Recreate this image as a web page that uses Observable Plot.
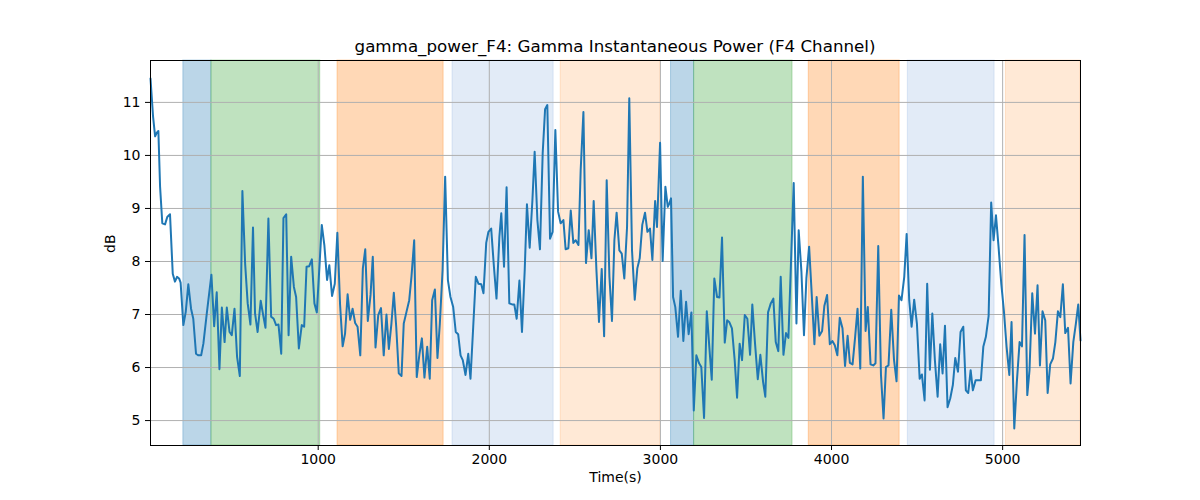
<!DOCTYPE html>
<html>
<head>
<meta charset="utf-8">
<script src="https://cdn.jsdelivr.net/npm/d3@7"></script>
<script src="https://cdn.jsdelivr.net/npm/@observablehq/plot@0.6"></script>
<style>
  body { margin: 0; background: #fff; font-family: "DejaVu Sans", sans-serif; }
  #title { box-sizing: border-box; height: 56px; width: 930px; margin-left: 150px;
           display: flex; align-items: flex-end; justify-content: center;
           font-size: 16.7px; color: #000; line-height: 1.15; }
  #chart svg { display: block; }
</style>
</head>
<body>
<div id="title">gamma_power_F4: Gamma Instantaneous Power (F4 Channel)</div>
<div id="chart"></div>
<script>
const titleText = "gamma_power_F4: Gamma Instantaneous Power (F4 Channel)";
const xLabel = "Time(s)";
const yLabel = "dB";
const xTicks = [1000, 2000, 3000, 4000, 5000];
const yTicks = [5, 6, 7, 8, 9, 10, 11];

const times = [20,35,47,57,66,76,89,105,118,134,150,163,175,187,196,212,226,241,257,270,286,300,316,329,349,376,392,407,423,437,453,466,482,495,511,526,542,557,573,588,604,619,631,646,664,680,692,709,725,740,754,768,784,797,813,827,842,858,871,887,904,918,932,947,963,978,992,1021,1036,1052,1065,1081,1097,1112,1128,1143,1157,1172,1187,1201,1216,1230,1246,1261,1275,1290,1306,1319,1335,1351,1367,1383,1399,1413,1428,1442,1456,1471,1487,1500,1516,1532,1545,1561,1576,1592,1606,1621,1637,1652,1666,1682,1697,1711,1727,1742,1758,1773,1789,1804,1818,1832,1845,1861,1877,1890,1906,1921,1937,1953,1966,1982,1995,2011,2027,2042,2059,2070,2086,2101,2117,2133,2146,2160,2176,2191,2207,2220,2236,2252,2265,2281,2296,2312,2326,2339,2355,2370,2386,2402,2417,2433,2446,2462,2476,2491,2505,2521,2534,2550,2565,2581,2597,2610,2626,2641,2657,2671,2686,2702,2717,2731,2744,2760,2774,2789,2805,2818,2834,2850,2865,2879,2894,2910,2924,2939,2953,2969,2980,2998,3013,3029,3043,3052,3062,3074,3087,3103,3119,3134,3150,3165,3181,3195,3210,3226,3239,3255,3271,3286,3300,3315,3331,3345,3360,3376,3390,3402,3418,3434,3448,3463,3477,3493,3508,3524,3537,3553,3569,3584,3600,3613,3629,3645,3660,3674,3689,3703,3719,3734,3748,3779,3795,3808,3824,3839,3853,3869,3884,3900,3913,3929,3945,3958,3974,3990,4005,4019,4034,4048,4064,4079,4094,4107,4123,4138,4152,4168,4183,4199,4212,4228,4244,4257,4273,4289,4304,4318,4333,4349,4365,4380,4394,4409,4425,4439,4454,4468,4483,4499,4515,4528,4544,4559,4575,4589,4604,4620,4635,4649,4663,4678,4694,4709,4723,4739,4754,4770,4785,4799,4813,4826,4842,4857,4873,4887,4902,4918,4933,4947,4961,4976,4992,5007,5023,5039,5052,5068,5083,5099,5113,5128,5144,5157,5173,5189,5204,5218,5233,5249,5263,5278,5294,5308,5323,5337,5352,5366,5382,5397,5413,5428,5442,5455];

const power = [11.45,10.73,10.36,10.43,10.46,9.41,8.72,8.70,8.84,8.89,7.77,7.62,7.71,7.68,7.60,6.80,7.05,7.57,7.11,6.92,6.26,6.23,6.23,6.45,7.02,7.75,6.78,7.42,5.97,7.13,6.48,7.13,6.67,6.61,7.11,6.20,5.84,9.33,7.96,7.21,6.81,8.64,7.02,6.67,7.26,6.96,6.75,8.81,6.96,6.92,6.80,6.81,6.26,8.82,8.89,6.61,8.09,7.52,7.33,6.36,6.80,6.77,7.90,7.91,8.04,7.21,7.04,8.69,8.31,7.65,7.93,7.35,7.58,8.54,7.18,6.40,6.64,7.38,6.90,7.11,6.84,6.77,6.23,7.87,8.23,6.88,7.37,8.09,6.38,6.99,7.12,6.23,7.00,6.35,6.83,7.41,6.77,5.89,5.84,6.83,7.05,7.27,7.71,8.40,5.82,6.26,6.55,5.81,6.39,5.79,7.27,7.47,6.18,6.83,7.84,9.60,7.65,7.33,7.14,6.67,6.63,6.23,6.14,5.86,6.26,5.79,6.77,7.71,7.58,7.57,7.40,8.35,8.56,8.62,7.90,7.30,8.47,8.91,7.90,9.40,7.21,7.19,7.19,6.92,7.64,6.67,7.84,9.08,8.26,9.16,10.07,8.78,8.23,10.04,10.87,10.95,8.43,8.56,10.48,8.94,8.72,8.78,8.23,8.25,8.96,8.35,8.40,8.31,9.72,10.82,7.97,8.59,8.06,9.14,7.84,6.86,7.86,6.59,9.53,7.71,6.88,8.40,8.92,8.21,8.15,7.68,8.65,11.08,8.21,7.28,7.87,8.06,8.69,8.92,8.56,8.62,8.03,9.14,8.65,10.24,8.01,9.41,9.03,9.09,9.19,7.33,7.14,6.58,7.45,6.50,7.24,6.63,7.04,5.19,6.23,6.08,6.01,5.05,7.06,6.38,5.77,7.68,7.33,7.32,8.45,6.47,6.89,6.86,6.74,6.14,5.43,6.45,6.14,6.99,6.92,6.24,7.19,6.45,5.78,6.24,5.73,5.45,7.04,7.21,7.30,6.48,6.31,7.71,6.24,6.65,6.56,9.48,6.83,8.59,7.81,6.61,7.68,8.28,7.40,6.44,7.33,6.60,6.69,7.16,7.37,6.44,6.50,6.42,6.23,6.94,6.74,6.03,6.60,6.09,6.06,6.58,7.11,5.98,9.60,6.69,7.14,6.06,6.04,6.08,8.29,5.86,5.04,6.01,6.04,7.09,6.15,5.74,7.36,7.27,7.71,8.52,7.27,6.77,7.28,6.83,5.79,5.87,5.38,7.58,5.96,7.02,6.14,5.45,6.44,5.89,6.79,5.25,5.42,5.67,6.18,5.92,6.67,6.77,5.57,5.52,5.95,5.57,5.76,5.76,5.76,6.39,6.58,6.97,9.11,8.40,8.87,8.28,7.58,7.08,6.39,5.86,6.86,4.85,5.73,6.48,6.40,8.50,5.48,5.95,7.40,6.64,7.55,6.04,7.06,6.89,5.52,6.06,6.17,6.48,7.06,6.95,7.57,6.65,6.75,5.70,6.48,6.83,7.19,6.51];

const spanStart = [212, 376, 1113, 1785, 2417, 3062, 3197, 3867, 4446, 5019];
const spanEnd   = [376, 1012, 1733, 2376, 2998, 3197, 3772, 4398, 4953, 5455];
const spanKind  = ["A", "B", "C", "D", "E", "A", "B", "C", "D", "E"];
const kinds = ["A", "B", "C", "D", "E"];
const kindColors = ["rgba(31,119,180,0.3)", "rgba(44,160,44,0.3)", "rgba(255,127,14,0.3)",
                    "rgba(111,155,214,0.2)", "rgba(255,127,14,0.17)"];

const data = times.map((t, i) => ({t, v: power[i]}));
const spans = spanStart.map((s, i) => ({s, e: spanEnd[i], k: spanKind[i]}));

const chart = Plot.plot({
  width: 1200,
  height: 444,
  marginLeft: 150,
  marginRight: 120,
  marginTop: 4,
  marginBottom: 55,
  style: {fontFamily: "DejaVu Sans, sans-serif", fontSize: "14px", color: "#000", background: "#fff"},
  x: {domain: [20, 5455], label: null},
  y: {domain: [4.53, 11.79], label: null},
  color: {domain: kinds, range: kindColors},
  marks: [
    Plot.rect(spans, {x1: "s", x2: "e", fill: "k", stroke: "k", strokeWidth: 1}),
    Plot.gridX(xTicks, {stroke: "#b0b0b0", strokeOpacity: 1, strokeWidth: 1}),
    Plot.gridY(yTicks, {stroke: "#b0b0b0", strokeOpacity: 1, strokeWidth: 1}),
    Plot.line(data, {x: "t", y: "v", stroke: "#1f77b4", strokeWidth: 2}),
    Plot.frame({stroke: "#000", strokeWidth: 1}),
    Plot.axisX(xTicks, {tickSize: 5, tickPadding: 4, fontSize: 14, tickFormat: d => String(d), label: null}),
    Plot.axisY(yTicks, {tickSize: 5, tickPadding: 5, fontSize: 14, tickFormat: d => String(d), label: null}),
    Plot.text([xLabel], {text: d => d, frameAnchor: "bottom", dy: 36, fontSize: 14, fill: "#000"}),
    Plot.text([yLabel], {text: d => d, frameAnchor: "left", dx: -40, rotate: -90, fontSize: 14, fill: "#000"})
  ]
});
document.getElementById("chart").appendChild(chart);
</script>
</body>
</html>
